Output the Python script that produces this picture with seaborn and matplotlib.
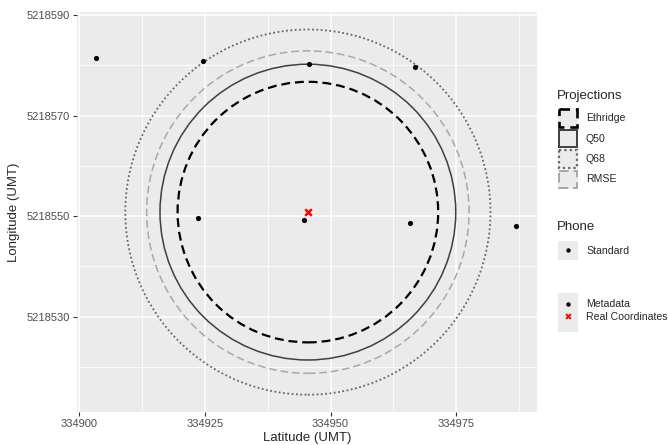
import numpy as np
import pandas as pd
import matplotlib.pyplot as plt
import seaborn as sns
from matplotlib.patches import Circle, Rectangle

# Observed phone / metadata positions (UTM)
lat = [334903.4, 334924.6, 334945.7, 334966.7, 334923.7, 334944.8, 334965.9, 334986.9]
lon = [5218581.4, 5218580.9, 5218580.2, 5218579.7, 5218549.7, 5218549.2, 5218548.6, 5218548.1]

# Real coordinates
real_lat = [334945.5]
real_lon = [5218550.8]

# Projection circles (centre on real point), radius in metres
proj_names = ["Ethridge", "Q50", "Q68", "RMSE"]
proj_radius = [25.9, 29.4, 36.3, 32.05]
proj_color = ["black", "#3f3f3f", "#666666", "#a8a8a8"]
proj_style = [(0, (4, 2.2)), "solid", (0, (1, 1.4)), (0, (5, 2.5))]
proj_width = [1.6, 1.1, 1.3, 1.1]

xticks = [334900, 334925, 334950, 334975]
yticks = [5218530, 5218550, 5218570, 5218590]

sns.set_style("darkgrid", {"axes.facecolor": "#EBEBEB", "grid.color": "white"})
plt.rcParams['font.family'] = ['Liberation Sans', 'DejaVu Sans']

fig = plt.figure(figsize=(6.68, 4.45), dpi=100)
ax = fig.add_axes([77 / 668, 33 / 445, 460 / 668, 400.3 / 445])

df = pd.DataFrame({"lat": lat, "lon": lon})

for name, r, c, ls, lw in zip(proj_names, proj_radius, proj_color, proj_style, proj_width):
    ax.add_patch(Circle((real_lat[0], real_lon[0]), r, fill=False, edgecolor=c,
                        linestyle=ls, linewidth=lw, zorder=2))

sns.scatterplot(data=df, x="lat", y="lon", color="black", s=14, linewidth=0, ax=ax, zorder=3)
ax.scatter(real_lat, real_lon, marker="x", color="red", s=22, linewidths=1.8, zorder=4)

ax.set_xlim(334899.6, 334991.05)
ax.set_ylim(5218511.1, 5218590.6)
ax.set_aspect("equal", adjustable="box")

ax.set_xticks(xticks)
ax.set_yticks(yticks)
ax.set_xticks([334912.5, 334937.5, 334962.5, 334987.5], minor=True)
ax.set_yticks([5218520, 5218540, 5218560, 5218580], minor=True)
ax.ticklabel_format(useOffset=False, style="plain")
ax.grid(which="major", color="white", linewidth=1.1)
ax.grid(which="minor", color="white", linewidth=0.55)
ax.tick_params(which="major", length=3, width=0.8, color="#333333",
               labelsize=8, labelcolor="#4D4D4D", pad=2, bottom=True, left=True)
ax.tick_params(which="minor", length=0)
for s in ax.spines.values():
    s.set_visible(False)

ax.set_xlabel("Latitude (UMT)", fontsize=9.5, labelpad=2)
ax.set_ylabel("Longitude (UMT)", fontsize=9.5, labelpad=5)

# Legends drawn in pixel space
lg = fig.add_axes([0, 0, 1, 1], facecolor="none")
lg.set_xlim(0, 668)
lg.set_ylim(445, 0)
lg.axis("off")

lg.text(557, 96, "Projections", fontsize=9.5, va="center", ha="left")
key_top = [108, 128.5, 149, 169.5]
for name, c, ls, lw, top in zip(proj_names, proj_color, proj_style, proj_width, key_top):
    lg.add_patch(Rectangle((558, top), 20, 19.5, facecolor="#EBEBEB", edgecolor="none"))
    lg.add_patch(Rectangle((559, top + 1), 18, 17.5, facecolor="none", edgecolor=c,
                           linestyle=ls, linewidth=lw + 0.3))
    lg.text(586, top + 10, name, fontsize=7.6, va="center", ha="left")

lg.text(557, 227, "Phone", fontsize=9.5, va="center", ha="left")
lg.add_patch(Rectangle((558, 241), 20, 19, facecolor="#EBEBEB", edgecolor="none"))
lg.scatter([568], [250], color="black", s=10, linewidth=0)
lg.text(586, 250.5, "Standard", fontsize=7.6, va="center", ha="left")

lg.add_patch(Rectangle((558, 293), 20, 39, facecolor="#EBEBEB", edgecolor="none"))
lg.scatter([568], [304], color="black", s=10, linewidth=0)
lg.scatter([568], [316], color="red", marker="x", s=12, linewidths=1.4)
lg.text(586, 304, "Metadata", fontsize=7.6, va="center", ha="left")
lg.text(586, 316.5, "Real Coordinates", fontsize=7.6, va="center", ha="left")

fig.savefig("out.png", dpi=100)
